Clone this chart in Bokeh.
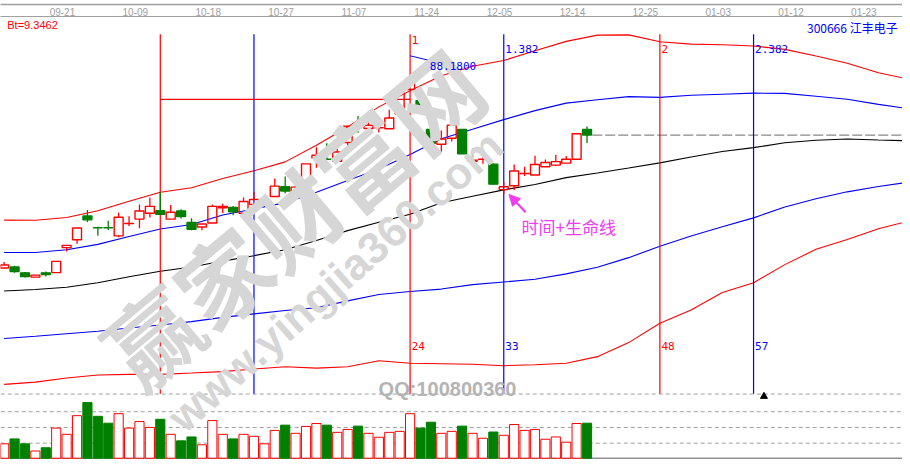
import numpy as np
from bokeh.plotting import figure
from bokeh.models import Range1d, LinearAxis, FixedTicker, Label, Arrow, NormalHead, ColumnDataSource
from bokeh.core.properties import value
from bokeh.embed import file_html
from bokeh.resources import INLINE

# ---------------- data ----------------
opens = [49.64, 49.84, 48.64, 47.78, 48.64, 48.70, 53.78, 55.38, 60.24, 57.84,
         57.84, 56.18, 58.70, 59.58, 60.78, 61.30, 59.58, 61.24, 58.90, 57.98,
         58.78, 61.90, 61.98, 60.78, 62.58, 63.58, 64.18, 66.18, 64.38, 65.98,
         72.04, 71.80, 71.38, 75.18, 79.04, 78.04, 78.18, 77.98, 80.98, 85.98,
         83.70, 77.84, 74.84, 76.04, 77.84, 71.38, 71.78, 70.78, 65.58, 66.38,
         68.88, 68.58, 70.24, 70.58, 70.98, 71.78, 77.84]
highs = [50.84, 50.10, 48.84, 48.18, 48.90, 50.98, 54.24, 57.78, 61.44, 58.04,
         59.24, 60.90, 60.18, 62.58, 63.98, 65.18, 62.44, 61.58, 59.78, 58.58,
         62.58, 62.70, 62.24, 63.98, 65.10, 64.10, 67.84, 68.24, 67.58, 70.84,
         74.24, 75.04, 73.90, 78.50, 80.58, 80.78, 79.38, 81.84, 86.18, 88.18,
         86.84, 80.98, 77.64, 79.44, 77.84, 73.98, 73.44, 70.90, 67.10, 70.70,
         70.24, 72.50, 71.70, 72.64, 72.44, 76.98, 78.44]
lows = [49.58, 48.64, 47.70, 47.78, 47.90, 48.70, 52.98, 54.58, 58.98, 56.18,
        57.38, 55.90, 58.18, 57.70, 59.90, 60.58, 59.58, 59.70, 57.30, 57.30,
        58.78, 60.84, 60.38, 60.78, 62.24, 62.84, 64.18, 64.84, 63.64, 65.70,
        70.04, 71.78, 71.38, 74.18, 77.18, 78.04, 77.24, 77.98, 80.18, 85.98,
        81.30, 75.04, 73.30, 75.38, 72.90, 70.50, 70.84, 66.70, 64.70, 65.50,
        68.38, 68.58, 70.24, 70.38, 70.98, 71.78, 75.10]
closes = [50.24, 48.90, 47.90, 48.18, 48.30, 50.98, 54.24, 57.78, 59.44, 57.82,
          57.82, 59.98, 58.72, 61.24, 62.18, 60.58, 60.98, 60.10, 57.50, 58.58,
          62.18, 62.18, 61.10, 63.18, 63.58, 63.60, 66.30, 65.30, 66.10, 70.84,
          72.58, 71.78, 73.24, 78.50, 79.02, 78.70, 78.20, 80.18, 86.18, 88.18,
          81.30, 75.04, 75.90, 78.70, 72.90, 71.58, 71.80, 66.70, 66.18, 69.38,
          68.90, 70.70, 71.10, 71.30, 71.78, 76.98, 76.70]
volumes = [22000, 29500, 22000, 11000, 16000, 46000, 36500, 65000, 85000, 64000,
           53500, 68000, 46000, 56000, 47000, 59500, 36500, 26500, 32500, 20500,
           57500, 36500, 29500, 36500, 33500, 22000, 42500, 50500, 38000, 48500,
           53000, 50500, 39500, 44000, 49000, 38000, 32000, 39500, 41000, 68000,
           46000, 55000, 38000, 41000, 49000, 38000, 30500, 40000, 35000, 51500,
           42500, 44000, 29000, 32500, 24500, 53000, 53500]

band_idx = list(range(0, 88, 3))
upper2 = [59.38, 59.34, 59.92, 61.30, 63.24, 65.04, 65.98, 67.84, 69.44, 71.24,
          74.64, 78.34, 82.44, 85.74, 88.76, 90.72, 91.88, 93.86, 95.78, 97.04,
          97.10, 95.70, 95.22, 95.10, 94.84, 94.14, 92.80, 91.32, 89.38, 88.04]
upper1 = [52.78, 52.78, 53.34, 54.44, 56.04, 57.58, 58.50, 60.44, 61.66, 62.94,
          65.04, 67.44, 69.78, 72.72, 75.96, 77.88, 79.84, 81.68, 83.20, 83.90,
          84.52, 84.38, 84.80, 85.02, 85.24, 85.18, 84.60, 84.00, 82.94, 82.04]
middle = [44.94, 45.26, 45.72, 46.64, 47.84, 48.98, 49.84, 51.04, 52.14, 53.34,
          55.24, 57.24, 58.94, 60.58, 62.92, 64.24, 65.54, 66.64, 68.04, 68.98,
          70.00, 71.04, 72.24, 73.34, 74.14, 75.12, 75.64, 75.90, 75.68, 75.54]
lower1 = [35.28, 35.74, 36.24, 36.74, 37.40, 38.04, 38.72, 39.58, 40.30, 40.98,
          41.54, 42.94, 44.24, 44.84, 45.34, 46.24, 46.78, 47.34, 48.44, 49.78,
          51.74, 54.04, 56.14, 58.04, 59.84, 62.04, 63.74, 65.14, 66.24, 67.14]
lower2 = [25.94, 26.40, 27.24, 27.84, 27.98, 27.98, 28.24, 28.54, 29.08, 29.54,
          29.24, 29.54, 30.74, 30.24, 30.14, 30.04, 29.74, 29.94, 30.24, 31.58,
          34.44, 38.38, 41.10, 44.64, 46.64, 50.32, 53.44, 55.44, 57.64, 59.24]

date_ticks = [5.6, 12.6, 19.6, 26.6, 33.6, 40.6, 47.6, 54.6, 61.6, 68.6, 75.6, 82.6]
date_labels = ["09-21", "10-09", "10-18", "10-27", "11-07", "11-24",
               "12-05", "12-14", "12-25", "01-03", "01-12", "01-23"]

time_lines = [15, 24, 39, 48, 63, 72]
fib_labels = ["", "", "1", "1.382", "2", "2.382"]
level_price = 83.98
vol_grid = [23000, 47000, 71000, 98000]
stock_title = "300666  江丰电子"
bt_text = "Bt=9.3462"

# ---------------- figure ----------------
RED = "#ff0000"
GREEN = "#008000"
BLUE = "#0000ff"
MAG = "#f03cf0"
WM = "#d6d6d6"

p = figure(width=902, height=459, x_range=Range1d(-0.352, 86.31),
           y_range=Range1d(10.64, 100.84), output_backend="svg",
           toolbar_location=None, x_axis_type=None, y_axis_type=None,
           min_border_left=0, min_border_right=0, min_border_bottom=0,
           min_border_top=16, background_fill_color="white",
           border_fill_color="white", outline_line_color=None)
p.grid.visible = False
p.extra_y_ranges = {"vol": Range1d(-1950, 674550)}

# top date axis
ax = LinearAxis(ticker=FixedTicker(ticks=date_ticks),
                major_label_overrides={t: l for t, l in zip(date_ticks, date_labels)},
                axis_line_color="#a0a0a0", major_tick_out=0, major_tick_in=0,
                minor_tick_out=0, minor_tick_in=0, major_label_standoff=1,
                major_label_text_color="#a0a0a0", major_label_text_font_size="10px",
                major_label_text_font="Liberation Sans")
p.add_layout(ax, "above")
# thin outer border line of the date strip
ax2 = LinearAxis(ticker=FixedTicker(ticks=[date_ticks[0]]),
                 major_label_overrides={date_ticks[0]: " "},
                 axis_line_color="#a0a0a0", axis_line_width=1.5,
                 major_tick_out=0, major_tick_in=0, minor_tick_out=0, minor_tick_in=0,
                 major_label_text_font_size="1px", major_label_standoff=0)
p.add_layout(ax2, "above")

# watermarks
p.add_layout(Label(x=27.6, y=60.2, text="赢家财富网", angle=40, angle_units="deg",
                   text_align="center", text_baseline="middle", text_font="Noto Sans CJK SC",
                   text_font_style="bold", text_font_size="92px", text_color=WM))
p.add_layout(Label(x=31.8, y=47.0, text="www.yingjia360.com", angle=41.5, angle_units="deg",
                   text_align="center", text_baseline="middle", text_font="Liberation Sans",
                   text_font_style="bold", text_font_size="44px", text_color=WM))
p.add_layout(Label(x=42.6, y=24.9, text="QQ:100800360", text_align="center",
                   text_baseline="middle", text_font="Liberation Sans", text_font_style="bold",
                   text_font_size="20px", text_color="#b4b4b4"))

# volume panel
for g in vol_grid:
    p.line([-1, 88], [g, g], y_range_name="vol", line_color="#a0a0a0",
           line_dash="4 3", line_width=1)
p.line([-1, 88], [0, 0], y_range_name="vol", line_color="#909090", line_width=1.5)

idx = np.arange(len(opens))
o = np.array(opens); c = np.array(closes); h = np.array(highs); l = np.array(lows)
up = c >= o
vsrc = ColumnDataSource(dict(x=idx, top=volumes,
                             fill=[("white" if u else GREEN) for u in up],
                             line=[(RED if u else GREEN) for u in up]))
p.vbar(x="x", top="top", bottom=0, width=0.88, source=vsrc, y_range_name="vol",
       fill_color="fill", line_color="line", line_width=1)
p.scatter([73], [vol_grid[-1] - 3500], y_range_name="vol", marker="triangle",
          size=7, color="black")

# bands
p.line(band_idx, lower2, line_color=RED, line_width=1.1)
p.line(band_idx, lower1, line_color=BLUE, line_width=1.1)
p.line(band_idx, middle, line_color="black", line_width=1.1)
p.line(band_idx, upper1, line_color=BLUE, line_width=1.1)
p.line(band_idx, upper2, line_color=RED, line_width=1.1)

# last close dashed
p.line([len(opens) - 0.5, 88], [closes[-1], closes[-1]], line_color="#888888",
       line_dash="10 3", line_width=1.2)

# time lines
vtop, vbot = 97.24, 24.04
tl_colors = [RED if k % 2 == 0 else BLUE for k in range(len(time_lines))]
p.segment(x0=time_lines, y0=[vtop] * len(time_lines), x1=time_lines,
          y1=[vbot] * len(time_lines), line_color=tl_colors, line_width=1.2)
p.line([time_lines[0], time_lines[2]], [level_price, level_price], line_color=RED, line_width=1.2)

for k, (t, lab) in enumerate(zip(time_lines, fib_labels)):
    if not lab:
        continue
    ytop = 96.84 if lab == "1" else 95.04
    p.add_layout(Label(x=t + 0.15, y=ytop, text=lab, text_baseline="top",
                       text_font="DejaVu Sans Mono", text_font_size="11px",
                       text_color=tl_colors[k]))
    p.add_layout(Label(x=t + 0.15, y=34.64, text=str(t - time_lines[0]), text_baseline="top",
                       text_font="DejaVu Sans Mono", text_font_size="11px",
                       text_color=tl_colors[k]))

# candles
bt = np.maximum(o, c); bb = np.minimum(o, c)
wx0, wy0, wy1, wcol = [], [], [], []
for i in range(len(o)):
    if up[i]:
        wx0 += [i, i]; wy0 += [h[i], bb[i]]; wy1 += [bt[i], l[i]]; wcol += [RED, RED]
    else:
        wx0 += [i]; wy0 += [h[i]]; wy1 += [l[i]]; wcol += [GREEN]
p.segment(x0=wx0, y0=wy0, x1=wx0, y1=wy1, line_color=wcol, line_width=1.3)
csrc = ColumnDataSource(dict(x=idx, top=bt, bottom=bb,
                             fill=[(None if u else GREEN) for u in up],
                             line=[(RED if u else GREEN) for u in up]))
p.vbar(x="x", top="top", bottom="bottom", width=0.86, source=csrc,
       fill_color="fill", line_color="line", line_width=1.4)

# peak label
pk = int(np.argmax(h))
p.segment(x0=[pk], y0=[h[pk] + 4.66], x1=[pk + 1.85], y1=[h[pk] + 3.72],
          line_color=BLUE, line_width=1)
p.add_layout(Label(x=pk + 1.9, y=h[pk] + 3.3, text=f"{h[pk]:.4f}", text_baseline="top",
                   text_font="DejaVu Sans Mono", text_font_size="11px", text_color=BLUE))

# arrow + annotation
tgt = time_lines[3]
p.add_layout(Arrow(end=NormalHead(size=11, fill_color=MAG, line_color=MAG),
                   x_start=tgt + 2.1, y_start=lows[tgt] - 3.7,
                   x_end=tgt + 0.5, y_end=lows[tgt] - 0.1,
                   line_color=MAG, line_width=2.2))
p.add_layout(Label(x=tgt + 1.7, y=lows[tgt] - 4.0, text="时间+生命线", text_baseline="top",
                   text_font="Noto Sans CJK SC", text_font_size="17px", text_color=MAG))

# header texts
p.add_layout(Label(x=0.3, y=100.3, text=bt_text, text_baseline="top",
                   text_font="Liberation Sans", text_font_size="11px", text_color=RED))
p.add_layout(Label(x=86.1, y=100.3, text=stock_title, text_baseline="top", text_align="right",
                   text_font="Noto Sans CJK SC", text_font_size="12px", text_color=BLUE))

open("out.html", "w").write(file_html(p, INLINE))
